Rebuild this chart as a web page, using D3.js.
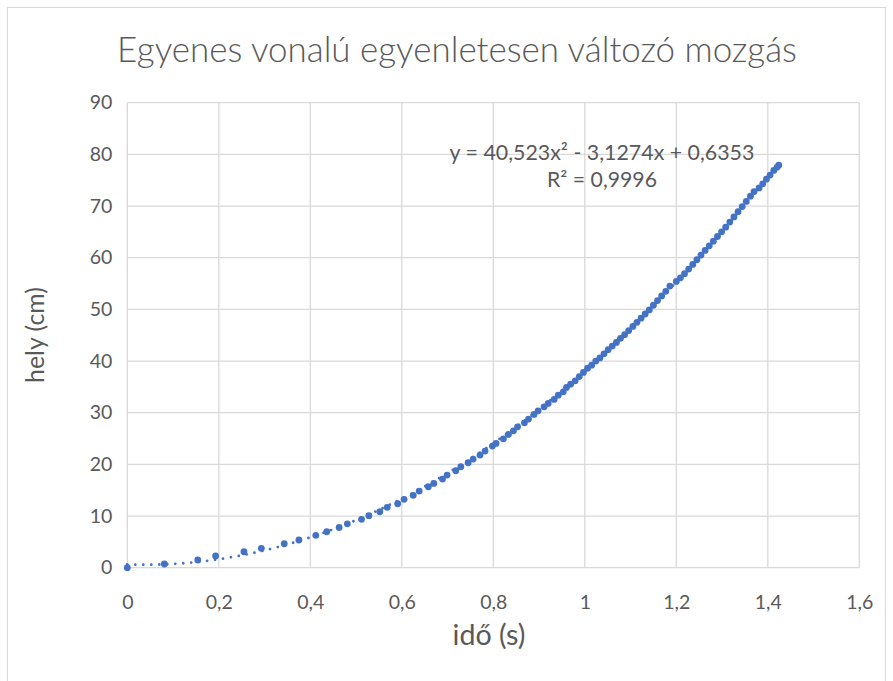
<!DOCTYPE html>
<html>
<head>
<meta charset="utf-8">
<script src="https://cdn.jsdelivr.net/npm/d3@7/dist/d3.min.js"></script>
<style>
  html, body { margin: 0; padding: 0; background: #fff; }
  svg { display: block; font-family: Lato, "Open Sans", sans-serif; }
</style>
</head>
<body>
<svg id="chart" width="893" height="681"></svg>
<script>
// ---- Data ----
const timeS = [
  0, 0.081, 0.154, 0.193, 0.255, 0.293, 0.343, 0.375, 0.412, 0.436, 0.463, 0.481,
  0.512, 0.528, 0.552, 0.568, 0.591, 0.605, 0.625, 0.638, 0.658, 0.670, 0.689, 0.699,
  0.718, 0.729, 0.745, 0.756, 0.771, 0.782, 0.798, 0.806, 0.822, 0.833, 0.844, 0.853,
  0.868, 0.877, 0.889, 0.898, 0.911, 0.920, 0.933, 0.942, 0.953, 0.960, 0.969, 0.979,
  0.988, 0.997, 1.006, 1.015, 1.024, 1.033, 1.042, 1.051, 1.060, 1.069, 1.078, 1.087,
  1.096, 1.105, 1.114, 1.123, 1.132, 1.141, 1.150, 1.159, 1.168, 1.177, 1.186,
  1.200, 1.209, 1.218, 1.227, 1.236, 1.245, 1.254, 1.263, 1.272, 1.281, 1.290, 1.299,
  1.308, 1.317, 1.326, 1.335, 1.344, 1.353, 1.362, 1.370,
  1.381, 1.389, 1.397, 1.405, 1.413, 1.420, 1.424
];
const positionCm = [
  0, 0.72, 1.49, 2.26, 3.09, 3.75, 4.64, 5.36, 6.27, 6.96, 7.78, 8.50,
  9.36, 10.06, 10.83, 11.68, 12.38, 13.23, 14.0, 14.84, 15.67, 16.32, 17.16, 17.93,
  18.76, 19.54, 20.31, 21.03, 21.80, 22.57, 23.54, 24.06, 24.95, 25.80, 26.50, 27.27,
  28.05, 28.76, 29.67, 30.37, 31.14, 31.80, 32.57, 33.40, 34.04, 34.89, 35.53, 36.17,
  37.0, 37.8, 38.6, 39.2, 40.0, 40.6, 41.4, 42.2, 42.9, 43.6, 44.4, 45.1,
  45.9, 46.7, 47.5, 48.3, 49.1, 49.9, 50.8, 51.7, 52.6, 53.5, 54.5,
  55.4, 56.1, 56.9, 57.8, 58.7, 59.6, 60.5, 61.4, 62.3, 63.2, 64.1, 65.0,
  65.9, 66.9, 67.9, 68.9, 69.9, 70.9, 71.9, 72.8,
  73.5, 74.3, 75.2, 76.0, 76.9, 77.5, 77.9
];
// Trendline (polynomial, order 2) coefficients as printed: a, b, c
const trendCoef = [40.523, -3.1274, 0.6353];
const xTicks = [0, 0.2, 0.4, 0.6, 0.8, 1, 1.2, 1.4, 1.6];
const yTicks = [0, 10, 20, 30, 40, 50, 60, 70, 80, 90];
const titleText = "Egyenes vonalú egyenletesen változó mozgás";
const xTitle = "idő (s)";
const yTitle = "hely (cm)";
const eqText = "y = 40,523x² - 3,1274x + 0,6353";
const r2Text = "R² = 0,9996";

// ---- Layout ----
const svg = d3.select("#chart");
const plot = { left: 127.3, right: 859.3, top: 102.7, bottom: 567.7 };
const blue = "#4472C4";
const textCol = "#595959";
const gridCol = "#d9d9d9";

const x = d3.scaleLinear().domain([0, 1.6]).range([plot.left, plot.right]);
const y = d3.scaleLinear().domain([0, 90]).range([plot.bottom, plot.top]);
const fmt = v => String(v).replace(".", ",");

// outer chart border
svg.append("rect").attr("x", 7.5).attr("y", 7.5).attr("width", 878).attr("height", 700)
  .attr("fill", "none").attr("stroke", gridCol).attr("stroke-width", 1);

function fitWidth(sel, w) {
  const n = sel.node();
  const fs = parseFloat(sel.attr("font-size"));
  const cur = n.getComputedTextLength();
  if (cur > 0) sel.attr("font-size", fs * w / cur);
}

// title
const t = svg.append("text").attr("x", 457).attr("y", 62).attr("text-anchor", "middle")
  .attr("font-size", 32).attr("font-weight", 300).attr("fill", textCol).text(titleText);
fitWidth(t, 680);

// gridlines
const gx = svg.append("g");
gx.selectAll("line.v").data(xTicks).join("line")
  .attr("x1", d => x(d)).attr("x2", d => x(d))
  .attr("y1", plot.top).attr("y2", plot.bottom)
  .attr("stroke", gridCol).attr("stroke-width", 1.3);
gx.selectAll("line.h").data(yTicks).join("line")
  .attr("x1", plot.left).attr("x2", plot.right)
  .attr("y1", d => y(d)).attr("y2", d => y(d))
  .attr("stroke", gridCol).attr("stroke-width", 1.3);

// axes (labels only, via d3 axes)
const xAxis = svg.append("g").attr("transform", `translate(0,${plot.bottom})`)
  .call(d3.axisBottom(x).tickValues(xTicks).tickFormat(fmt).tickSize(0).tickPadding(27));
const yAxis = svg.append("g").attr("transform", `translate(${plot.left},0)`)
  .call(d3.axisLeft(y).tickValues(yTicks).tickFormat(fmt).tickSize(0).tickPadding(15));
[xAxis, yAxis].forEach(a => {
  a.select(".domain").remove();
  a.selectAll("text").attr("fill", textCol).attr("font-size", 19.5)
    .attr("font-family", "Lato, 'Open Sans', sans-serif");
});

// axis titles
const xt = svg.append("text").attr("x", 489).attr("y", 645).attr("text-anchor", "middle")
  .attr("font-size", 20).attr("fill", textCol).text(xTitle);
fitWidth(xt, 73);
const yt = svg.append("text").attr("transform", "translate(44,335) rotate(-90)")
  .attr("text-anchor", "middle").attr("font-size", 20).attr("fill", textCol).text(yTitle);
fitWidth(yt, 96);

// data points
const pts = timeS.map((t, i) => ({ t, p: positionCm[i] }));
svg.append("g").selectAll("circle").data(pts).join("circle")
  .attr("cx", d => x(d.t)).attr("cy", d => y(d.p)).attr("r", 3.4)
  .attr("fill", blue);

// trendline (dotted)
const tMax = d3.max(timeS);
const trendX = d3.range(0, tMax + 1e-9, tMax / 300);
const trend = trendX.map(t => ({ t, p: trendCoef[0] * t * t + trendCoef[1] * t + trendCoef[2] }));
svg.append("path").datum(trend)
  .attr("d", d3.line().x(d => x(d.t)).y(d => y(d.p)))
  .attr("fill", "none").attr("stroke", blue).attr("stroke-width", 2.8)
  .attr("stroke-linecap", "round").attr("stroke-dasharray", "0 8");

// equation label
const e1 = svg.append("text").attr("x", 602).attr("y", 160).attr("text-anchor", "middle")
  .attr("font-size", 18).attr("fill", textCol).text(eqText);
fitWidth(e1, 305);
const e2 = svg.append("text").attr("x", 602).attr("y", 187).attr("text-anchor", "middle")
  .attr("font-size", 18).attr("fill", textCol).text(r2Text);
fitWidth(e2, 110);
</script>
</body>
</html>
